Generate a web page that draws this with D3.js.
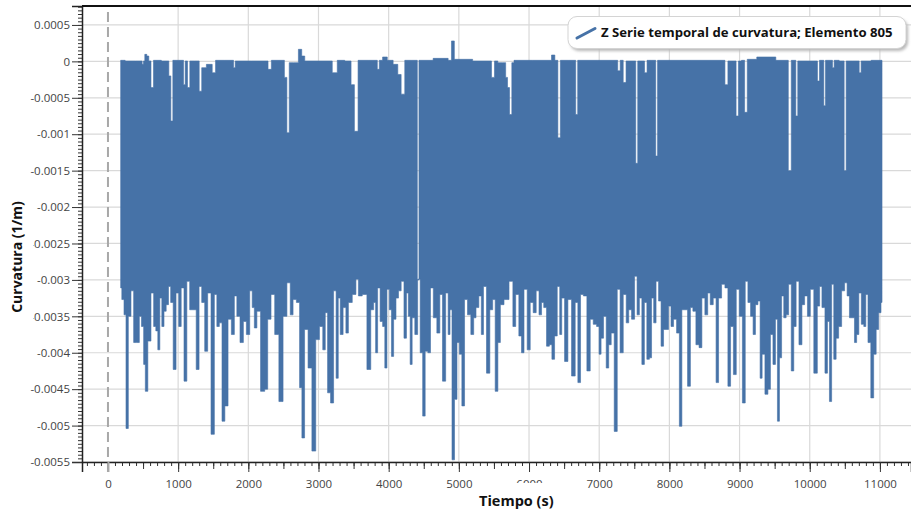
<!DOCTYPE html>
<html><head><meta charset="utf-8">
<script src="https://cdn.jsdelivr.net/npm/d3@7"></script>
<style>html,body{margin:0;padding:0;background:#fff;}svg{display:block;font-family:"Open Sans","Noto Sans",sans-serif;}</style>
</head><body><svg id="chart" width="911" height="512"></svg>
<script>
// ---------- data ----------
const seriesName = "Z Serie temporal de curvatura; Elemento 805";
const xTitle = "Tiempo (s)";
const yTitle = "Curvatura (1/m)";
const xTickValues = [0,1000,2000,3000,4000,5000,6000,7000,8000,9000,10000,11000];
const xTickLabels = ["0","1000","2000","3000","4000","5000","6000","7000","8000","9000","10000","11000"];
const yTickValues = [0.0005,0,-0.0005,-0.001,-0.0015,-0.002,-0.0025,-0.003,-0.0035,-0.004,-0.0045,-0.005,-0.0055];
const yTickLabels = ["0.0005","0","-0.0005","-0.001","-0.0015","-0.002","-0.0025","-0.003","-0.0035","-0.004","-0.0045","-0.005","-0.0055"];
// upper envelope of the curvature signal [time s, curvature 1/m]
const upperEnvelope = [[181,0.000014],[309,0.000005],[475,0.000005],[499,-0.000041],[513,0.000005],[537,0.000096],[570,0.000073],[594,0.000005],[632,-0.00036],[666,0.000014],[856,0.000005],[879,-0.0002],[913,-0.00082],[936,0.000014],[1069,0.000014],[1084,-0.00032],[1117,0.000005],[1150,-0.00036],[1183,0.000005],[1283,0.000005],[1317,-0.00041],[1355,-0.000087],[1450,-0.000041],[1521,-0.000156],[1545,0.000014],[1782,0.000014],[1796,-0.000087],[1830,0.000005],[2257,0.000005],[2305,-0.00011],[2352,0.000014],[2495,0.000014],[2533,-0.00022],[2566,-0.00098],[2600,-0.000018],[2685,-0.000018],[2742,0.000165],[2780,0.000073],[2828,0.000005],[3160,0.000005],[3232,-0.000156],[3303,0.000014],[3445,0.000005],[3483,-0.00032],[3540,-0.00096],[3588,0.000014],[3826,0.000014],[3850,-0.00011],[3883,0.000014],[3944,0.00006],[4016,0.000014],[4111,-0.000041],[4149,-0.00018],[4206,-0.00045],[4253,0.000014],[4396,0.000014],[4420,-0.003],[4443,0.000014],[4824,0.000041],[4871,0.000014],[4919,0.00028],[4952,0.000028],[5441,0.000005],[5489,-0.00022],[5527,0.000005],[5584,-0.000018],[5655,-0.000018],[5679,-0.00022],[5708,-0.00036],[5736,-0.00073],[5774,-0.000018],[5798,0.000014],[6297,0.000014],[6344,0.000087],[6392,0.000014],[6430,-0.00105],[6463,0.000014],[6653,0.000014],[6677,-0.00073],[6710,0.000014],[7247,0.000014],[7280,-0.00013],[7318,0.000014],[7366,-0.00029],[7399,0.000005],[7509,0.000005],[7532,-0.0014],[7566,0.000005],[7627,0.000005],[7665,-0.000156],[7699,0.000014],[7794,0.000014],[7817,-0.0013],[7846,0.000014],[8768,0.000014],[8815,-0.00032],[8853,0.000005],[8934,0.000005],[8967,-0.00075],[9001,0.000005],[9053,0.000014],[9091,-0.0007],[9129,0.000028],[9362,0.00006],[9671,0.000014],[9718,-0.0015],[9756,0.000014],[9790,0.000014],[9813,-0.00075],[9846,0.000005],[10098,0.000005],[10122,-0.00027],[10155,0.000014],[10193,0.000014],[10208,-0.00061],[10241,0.000014],[10312,0.000014],[10336,-0.000087],[10360,0.000014],[10479,0.000005],[10502,-0.0015],[10536,0.000005],[10693,0.000005],[10716,-0.000156],[10749,0.000005],[11001,0.000014],[11030,0.000014]];
// lower envelope of the curvature signal [time s, curvature 1/m]
const lowerEnvelope = [[181,-0.00311],[214,-0.00327],[243,-0.00348],[271,-0.00504],[309,-0.0035],[347,-0.00315],[385,-0.00386],[433,-0.00386],[461,-0.0035],[494,-0.00364],[523,-0.00416],[542,-0.00453],[594,-0.00384],[632,-0.00318],[670,-0.00364],[694,-0.0037],[727,-0.00396],[751,-0.00325],[784,-0.00364],[813,-0.00343],[846,-0.00334],[879,-0.00309],[908,-0.00331],[951,-0.00423],[989,-0.00318],[1027,-0.00364],[1060,-0.00311],[1107,-0.00439],[1141,-0.00302],[1188,-0.00341],[1236,-0.00341],[1279,-0.00423],[1317,-0.00309],[1355,-0.00331],[1402,-0.00398],[1440,-0.00318],[1497,-0.00512],[1535,-0.0032],[1568,-0.00364],[1606,-0.00359],[1644,-0.00494],[1687,-0.00473],[1735,-0.00354],[1782,-0.00375],[1820,-0.00322],[1853,-0.0035],[1910,-0.00386],[1949,-0.00357],[1996,-0.00375],[2044,-0.00315],[2067,-0.00338],[2105,-0.00366],[2139,-0.00343],[2210,-0.00453],[2257,-0.0045],[2295,-0.00354],[2352,-0.0032],[2400,-0.00375],[2471,-0.00467],[2519,-0.0035],[2581,-0.00304],[2614,-0.00348],[2661,-0.00327],[2709,-0.00331],[2752,-0.00448],[2775,-0.00517],[2828,-0.00368],[2875,-0.00421],[2937,-0.00535],[2985,-0.00382],[3042,-0.00364],[3080,-0.00396],[3113,-0.00345],[3146,-0.00455],[3198,-0.00469],[3232,-0.00315],[3270,-0.00435],[3293,-0.00325],[3327,-0.00375],[3374,-0.00338],[3407,-0.00373],[3445,-0.00331],[3517,-0.0032],[3550,-0.00299],[3588,-0.00322],[3659,-0.0032],[3721,-0.00423],[3769,-0.00341],[3802,-0.00331],[3826,-0.004],[3859,-0.00311],[3897,-0.00357],[3931,-0.00364],[3959,-0.00421],[3992,-0.00313],[4026,-0.00341],[4054,-0.00405],[4087,-0.00354],[4121,-0.00325],[4159,-0.00315],[4197,-0.00302],[4239,-0.0038],[4268,-0.00318],[4292,-0.0035],[4320,-0.00416],[4349,-0.00352],[4396,-0.00375],[4430,-0.00299],[4468,-0.004],[4501,-0.00487],[4539,-0.00398],[4577,-0.004],[4615,-0.00311],[4658,-0.00352],[4715,-0.00373],[4743,-0.0032],[4791,-0.00439],[4833,-0.00318],[4862,-0.00375],[4886,-0.00341],[4919,-0.00547],[4957,-0.00464],[4990,-0.00386],[5024,-0.00402],[5062,-0.00473],[5100,-0.00327],[5147,-0.00348],[5195,-0.00375],[5228,-0.00352],[5261,-0.00338],[5309,-0.00322],[5332,-0.00375],[5370,-0.00309],[5418,-0.00428],[5465,-0.00341],[5499,-0.00327],[5537,-0.00453],[5575,-0.00386],[5608,-0.00334],[5679,-0.00327],[5751,-0.00302],[5789,-0.00364],[5831,-0.0032],[5879,-0.00377],[5907,-0.004],[5950,-0.00313],[5998,-0.00396],[6036,-0.00331],[6083,-0.00345],[6121,-0.00315],[6164,-0.00348],[6193,-0.00331],[6226,-0.00338],[6273,-0.00391],[6307,-0.00389],[6345,-0.00409],[6383,-0.00377],[6421,-0.00309],[6454,-0.00375],[6478,-0.00325],[6535,-0.00412],[6573,-0.00327],[6639,-0.00432],[6677,-0.00331],[6715,-0.00441],[6753,-0.0032],[6796,-0.00322],[6853,-0.00425],[6891,-0.00354],[6939,-0.00361],[6986,-0.00364],[7010,-0.00402],[7043,-0.0038],[7081,-0.0035],[7119,-0.00421],[7152,-0.00389],[7190,-0.00373],[7238,-0.00508],[7276,-0.00313],[7319,-0.004],[7366,-0.0032],[7404,-0.00359],[7437,-0.00341],[7485,-0.00354],[7523,-0.00295],[7556,-0.00348],[7589,-0.00325],[7627,-0.00416],[7660,-0.00331],[7698,-0.00409],[7732,-0.00407],[7760,-0.00325],[7793,-0.00359],[7827,-0.00302],[7865,-0.00329],[7898,-0.00391],[7936,-0.00368],[7969,-0.00368],[8007,-0.00336],[8040,-0.00364],[8079,-0.00354],[8126,-0.00373],[8159,-0.00501],[8197,-0.00341],[8235,-0.00341],[8283,-0.00446],[8316,-0.00338],[8354,-0.00343],[8402,-0.00389],[8444,-0.00393],[8482,-0.00325],[8530,-0.00348],[8563,-0.00318],[8601,-0.00334],[8649,-0.00325],[8682,-0.00441],[8720,-0.00325],[8768,-0.00306],[8815,-0.00311],[8853,-0.00446],[8891,-0.00364],[8934,-0.0043],[8972,-0.00313],[9019,-0.0035],[9062,-0.00469],[9100,-0.00302],[9138,-0.00331],[9176,-0.0035],[9210,-0.00375],[9243,-0.00334],[9281,-0.00329],[9305,-0.00435],[9338,-0.00402],[9385,-0.00457],[9423,-0.0045],[9457,-0.00375],[9495,-0.00416],[9528,-0.00354],[9552,-0.00494],[9585,-0.00407],[9613,-0.00322],[9647,-0.00352],[9680,-0.00348],[9718,-0.00306],[9756,-0.00425],[9789,-0.00364],[9823,-0.00302],[9870,-0.00389],[9908,-0.00334],[9946,-0.00322],[9989,-0.0035],[10027,-0.00313],[10089,-0.00428],[10127,-0.00336],[10155,-0.00309],[10193,-0.00338],[10241,-0.00428],[10264,-0.00357],[10298,-0.00467],[10326,-0.00306],[10359,-0.00409],[10393,-0.0038],[10431,-0.00364],[10478,-0.00315],[10516,-0.00304],[10549,-0.00322],[10583,-0.00352],[10621,-0.00352],[10654,-0.00386],[10683,-0.00375],[10716,-0.00318],[10754,-0.00361],[10787,-0.00364],[10811,-0.0032],[10849,-0.00386],[10892,-0.00462],[10930,-0.00402],[10963,-0.00368],[11001,-0.00345],[11030,-0.00331]];

// ---------- layout ----------
const L = 82, R = 911, T = 6, B = 462;
const blue = "#4672a7";
const svg = d3.select("#chart");
const x = d3.scaleLinear().domain([-370, 11443]).range([L, R]);
const y = d3.scaleLinear().domain([-0.0055, 0.00076]).range([B, T]);

// gridlines
const grid = svg.append("g");
grid.selectAll("line.v").data(xTickValues.filter(d => d !== 0)).join("line")
  .attr("x1", d => x(d)).attr("x2", d => x(d)).attr("y1", T).attr("y2", B)
  .attr("stroke", "#d9d9d9").attr("stroke-width", 1.2);
grid.selectAll("line.h").data(yTickValues).join("line")
  .attr("x1", L).attr("x2", R).attr("y1", d => y(d)).attr("y2", d => y(d))
  .attr("stroke", "#d9d9d9").attr("stroke-width", 1.2);

// dashed zero line
svg.append("line").attr("x1", x(0)).attr("x2", x(0)).attr("y1", T + 6).attr("y2", B + 10)
  .attr("stroke", "#a8a8a8").attr("stroke-width", 2).attr("stroke-dasharray", "10,5");

// signal band
const stepLine = d3.line().x(d => x(d[0])).y(d => y(d[1])).curve(d3.curveStep);
const pathD = stepLine(upperEnvelope) + stepLine(lowerEnvelope.slice().reverse()).replace(/^M/, "L") + "Z";
svg.append("path").attr("d", pathD).attr("fill", blue).attr("stroke", blue).attr("stroke-width", 0.6);

// axes
const fmt = (labels, vals) => d => labels[vals.indexOf(d)];
const yMinor = d3.range(-110, 16).map(k => k * 0.00005);
svg.append("g").attr("transform", `translate(${L},0)`)
  .call(d3.axisLeft(y).tickValues(yMinor).tickSize(4).tickFormat(""))
  .call(g => g.select(".domain").remove())
  .selectAll("line").attr("stroke", "#333");
const yAx = svg.append("g").attr("transform", `translate(${L},0)`)
  .call(d3.axisLeft(y).tickValues(yTickValues).tickFormat(fmt(yTickLabels, yTickValues)).tickSize(10).tickPadding(2));
yAx.select(".domain").attr("stroke", "#222").attr("stroke-width", 1.5);
yAx.selectAll("line").attr("stroke", "#333");
yAx.selectAll("text").attr("font-size", 11.5).attr("fill", "#444").attr("font-family", "'Open Sans', sans-serif");

const xMinor = d3.range(-3, 115).map(k => k * 100);
svg.append("g").attr("transform", `translate(0,${B})`)
  .call(d3.axisBottom(x).tickValues(xMinor).tickSize(4).tickFormat(""))
  .call(g => g.select(".domain").remove())
  .selectAll("line").attr("stroke", "#333");
svg.append("g").attr("transform", `translate(0,${B})`)
  .call(d3.axisBottom(x).tickValues(xMinor.filter(d => d % 500 === 0)).tickSize(7).tickFormat(""))
  .call(g => g.select(".domain").remove())
  .selectAll("line").attr("stroke", "#333");
const xAx = svg.append("g").attr("transform", `translate(0,${B})`)
  .call(d3.axisBottom(x).tickValues(xTickValues).tickFormat(fmt(xTickLabels, xTickValues)).tickSize(10).tickPadding(8));
xAx.select(".domain").attr("stroke", "#222").attr("stroke-width", 1.5);
xAx.selectAll("line").attr("stroke", d => d === 0 ? "#a8a8a8" : "#333").attr("stroke-width", d => d === 0 ? 2 : 1);
xAx.selectAll("text").attr("font-size", 11.5).attr("fill", "#444").attr("font-family", "'Open Sans', sans-serif");

// top border
svg.append("line").attr("x1", L).attr("x2", R).attr("y1", T).attr("y2", T)
  .attr("stroke", "#111").attr("stroke-width", 2);

// axis titles (with white backgrounds)
svg.append("rect").attr("x", 4).attr("y", 183).attr("width", 29.5).attr("height", 140).attr("fill", "#fff");
svg.append("text").attr("transform", "translate(22,257) rotate(-90)")
  .attr("text-anchor", "middle").attr("font-weight", "bold").attr("font-size", 14).attr("fill", "#111")
  .text(yTitle);
svg.append("rect").attr("x", 476).attr("y", 483).attr("width", 84).attr("height", 29).attr("fill", "#fff");
svg.append("text").attr("x", 479).attr("y", 506)
  .attr("font-weight", "bold").attr("font-size", 14.5).attr("fill", "#111").text(xTitle);

// legend
const defs = svg.append("defs");
defs.append("filter").attr("id", "sh").attr("x", "-10%").attr("y", "-30%").attr("width", "120%").attr("height", "170%")
  .append("feGaussianBlur").attr("stdDeviation", 1.5);
const lg = svg.append("g");
lg.append("rect").attr("x", 570).attr("y", 19).attr("width", 338).attr("height", 32).attr("rx", 9)
  .attr("fill", "#b8b8b8").attr("filter", "url(#sh)");
lg.append("rect").attr("x", 568).attr("y", 16.5).attr("width", 338).attr("height", 32).attr("rx", 9)
  .attr("fill", "#fff").attr("stroke", "#d4d4d4");
lg.append("line").attr("x1", 577).attr("y1", 38).attr("x2", 595).attr("y2", 28.5)
  .attr("stroke", blue).attr("stroke-width", 3).attr("stroke-linecap", "round");
const lt = lg.append("text").attr("x", 601).attr("y", 36.5)
  .attr("font-weight", "bold").attr("font-size", 13.5).attr("fill", "#111").text(seriesName);
const w = lt.node().getComputedTextLength();
lt.attr("font-size", 13.5 * 292 / w);
</script></body></html>
